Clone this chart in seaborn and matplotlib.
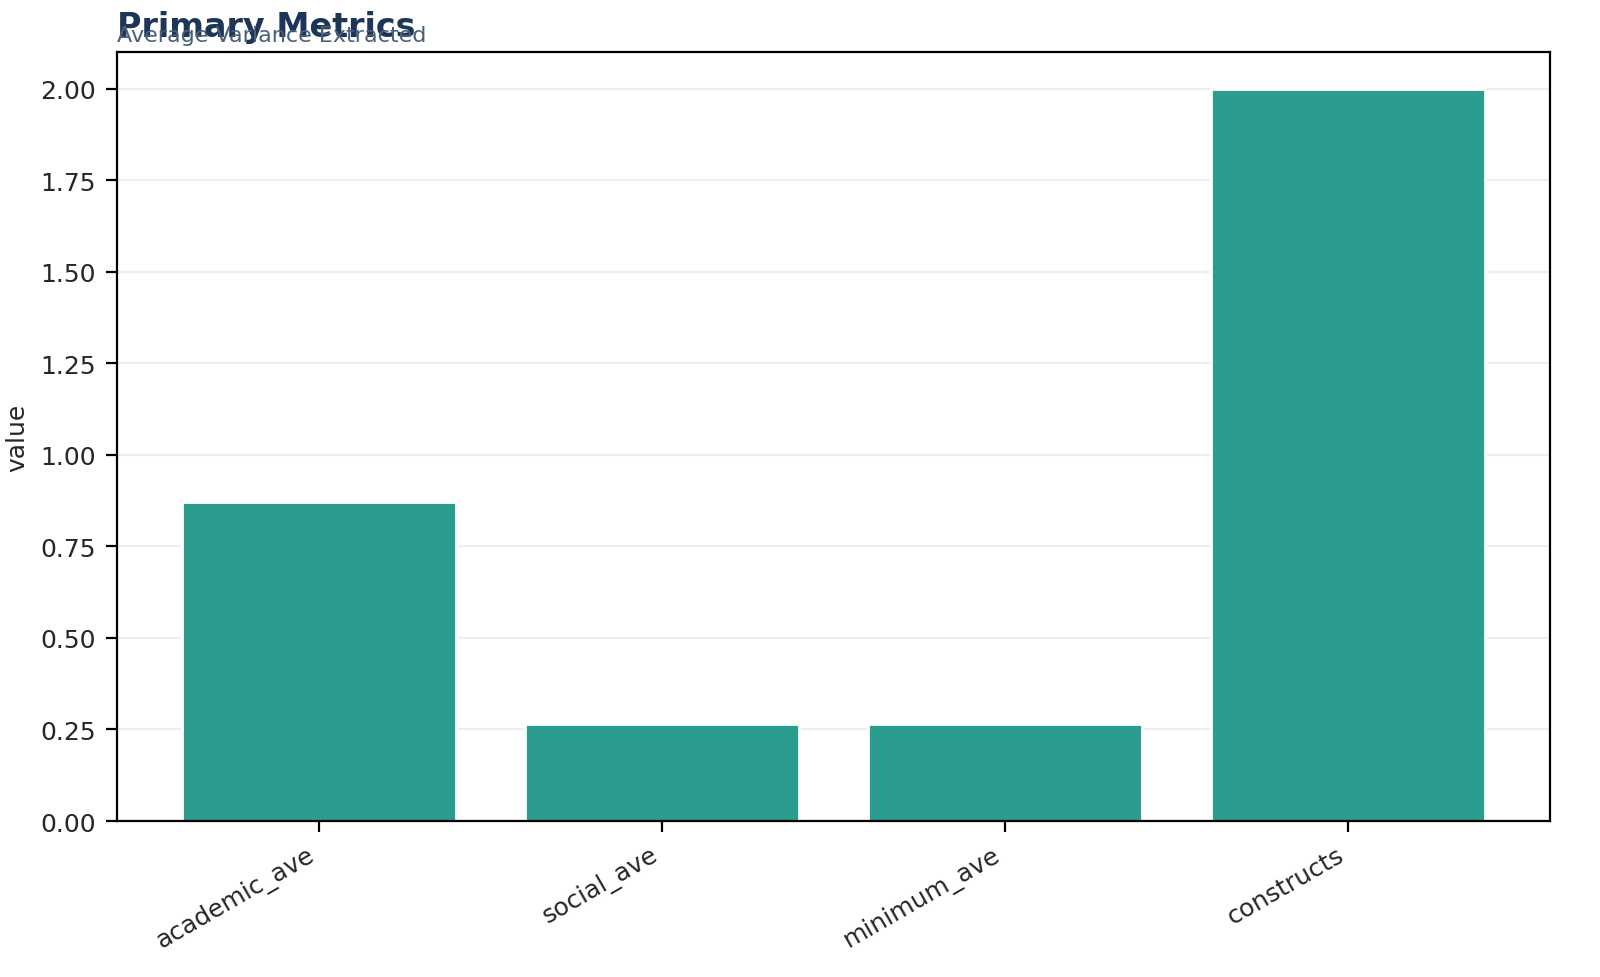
import matplotlib
matplotlib.use("Agg")
import matplotlib.pyplot as plt
import seaborn as sns
import pandas as pd

categories = ["academic_ave", "social_ave", "minimum_ave", "constructs"]
values = [0.87, 0.265, 0.265, 2.0]

sns.set_style("white")
plt.rcParams['font.family'] = ['DejaVu Sans']
df = pd.DataFrame({"metric": categories, "value": values})

fig = plt.figure(figsize=(8, 4.89), dpi=200)
ax = fig.add_axes([0.073, 0.1595, 0.896, 0.7863])
sns.barplot(data=df, x="metric", y="value", color="#2a9d8f", saturation=1, width=0.8, ax=ax)
ax.set_xlim(-0.59, 3.59)
ax.set_ylim(0, 2.1)
ax.set_yticks([0, 0.25, 0.5, 0.75, 1.0, 1.25, 1.5, 1.75, 2.0])
ax.yaxis.grid(True, color="#eeeeee", linewidth=0.8)
ax.set_axisbelow(True)
ax.set_xlabel("")
ax.set_ylabel("value", fontsize=9)
ax.tick_params(axis="both", labelsize=9, length=4, width=0.8, color="black", bottom=True, left=True)
plt.setp(ax.get_xticklabels(), rotation=30, ha="right")
for s in ax.spines.values():
    s.set_color("black"); s.set_linewidth(0.8)
fig.text(0.073, 0.955, "Primary Metrics", fontsize=12, fontweight="bold", color="#1d3557", ha="left", va="bottom")
fig.text(0.073, 0.953, "Average Variance Extracted", fontsize=8, color="#4a6078", ha="left", va="bottom")
fig.savefig("out.png", dpi=200)
